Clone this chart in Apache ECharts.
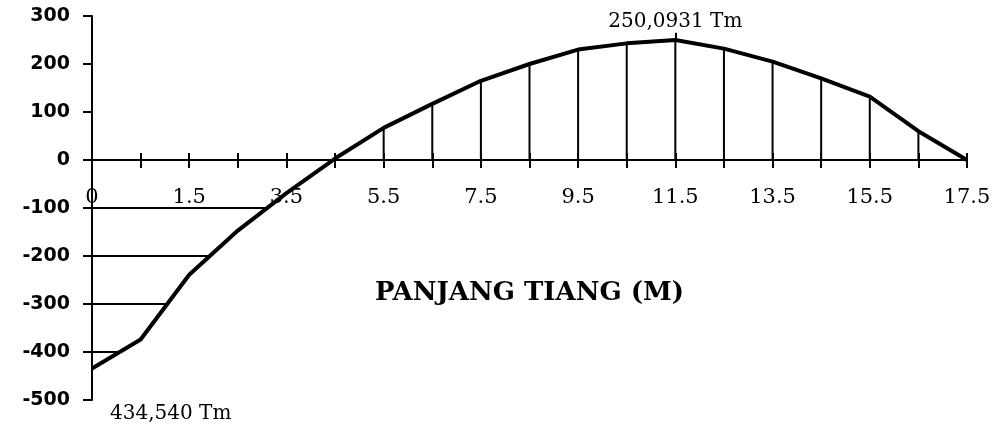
<!DOCTYPE html>
<html>
<head>
<meta charset="utf-8">
<script src="https://cdn.jsdelivr.net/npm/echarts@6/dist/echarts.min.js"></script>
<style>
  html, body { margin: 0; padding: 0; background: #fff; }
  #chart { width: 997px; height: 429px; }
</style>
</head>
<body>
<div id="chart"></div>
<script>
// ---- data ----
const categories = ['0', '0.5', '1.5', '2.5', '3.5', '4.5', '5.5', '6.5', '7.5', '8.5',
                    '9.5', '10.5', '11.5', '12.5', '13.5', '14.5', '15.5', '16.5', '17.5'];
const momentValues = [-434.54, -374, -239, -147, -69, 3, 67, 117, 165, 200,
                      230, 243, 250.09, 232, 205, 170, 132, 60, 0];
const yMin = -500;
const yMax = 300;
const yStep = 100;
const hatchLevels = [-100, -200, -300, -400];
const peakLabel = '250,0931 Tm';
const minLabel = '434,540 Tm';
const axisTitle = 'PANJANG TIANG (M)';

// ---- derived ----
const linePoints = momentValues.map((v, i) => [i, v]);
const barPoints = momentValues.map((v, i) => [i, v > 0 ? v : null]);
const peakIndex = momentValues.indexOf(Math.max(...momentValues));
const minIndex = momentValues.indexOf(Math.min(...momentValues));

function crossingX(level) {
  for (let i = 0; i < momentValues.length - 1; i++) {
    const a = momentValues[i], b = momentValues[i + 1];
    if ((a - level) * (b - level) <= 0 && a !== b) {
      return i + (level - a) / (b - a);
    }
  }
  return 0;
}
const hatchLines = hatchLevels.map(L => [{ coord: [0, L] }, { coord: [crossingX(L), L] }]);

const gridTop = 16, gridBottom = 29, chartH = 429;
const gridH = chartH - gridTop - gridBottom;
// move the x axis up from the grid bottom to the zero line
const zeroOffset = -((0 - yMin) / (yMax - yMin)) * gridH;

const chart = echarts.init(document.getElementById('chart'), null, { renderer: 'canvas' });

const xCommon = {
  type: 'value',
  min: 0,
  max: categories.length - 1,
  interval: 1,
  splitLine: { show: false },
  position: 'bottom',
  offset: zeroOffset
};

chart.setOption({
  backgroundColor: '#ffffff',
  animation: false,
  grid: { left: 92, right: 30, top: gridTop, bottom: gridBottom, containLabel: false, outerBoundsMode: 'none' },
  xAxis: [
    Object.assign({}, xCommon, {
      axisLine: { show: true, onZero: false, lineStyle: { color: '#000', width: 2 } },
      axisTick: { show: true, inside: false, length: 8, lineStyle: { color: '#000', width: 2 } },
      axisLabel: {
        show: true,
        margin: 27,
        color: '#000',
        fontFamily: 'DejaVu Serif',
        fontSize: 21,
        formatter: v => (v % 2 === 0 ? categories[v] : '')
      },
      name: axisTitle,
      nameLocation: 'middle',
      nameGap: 120,
      nameTextStyle: { color: '#000', fontFamily: 'DejaVu Serif', fontWeight: 'bold', fontSize: 26 }
    }),
    Object.assign({}, xCommon, {
      axisLine: { show: false, onZero: false },
      axisTick: { show: true, inside: true, length: 7, lineStyle: { color: '#000', width: 2 } },
      axisLabel: { show: false }
    })
  ],
  yAxis: {
    type: 'value',
    min: yMin,
    max: yMax,
    interval: yStep,
    splitLine: { show: false },
    axisLine: { show: true, onZero: false, lineStyle: { color: '#000', width: 2 } },
    axisTick: { show: true, length: 9, lineStyle: { color: '#000', width: 2 } },
    axisLabel: {
      margin: 22,
      color: '#000',
      fontFamily: 'DejaVu Sans',
      fontWeight: 'bold',
      fontSize: 19
    }
  },
  series: [
    {
      type: 'bar',
      xAxisIndex: 0,
      data: barPoints,
      barWidth: 2,
      itemStyle: { color: '#000' },
      silent: true,
      z: 2
    },
    {
      type: 'line',
      xAxisIndex: 0,
      data: linePoints,
      symbol: 'none',
      smooth: false,
      lineStyle: { color: '#000', width: 4, join: 'round' },
      z: 3,
      markLine: {
        silent: true,
        symbol: 'none',
        animation: false,
        lineStyle: { color: '#000', width: 2, type: 'solid' },
        label: { show: false },
        data: hatchLines.concat([
          [
            { coord: [peakIndex, momentValues[peakIndex]] },
            {
              coord: [peakIndex, 265],
              label: {
                show: true,
                position: 'end',
                distance: 1,
                formatter: peakLabel,
                color: '#000',
                fontFamily: 'DejaVu Serif',
                fontSize: 20
              }
            }
          ]
        ])
      },
      markPoint: {
        silent: true,
        symbol: 'circle',
        symbolSize: 0,
        data: [
          {
            coord: [minIndex, momentValues[minIndex]],
            label: {
              show: true,
              formatter: minLabel,
              position: 'inside',
              align: 'left',
              verticalAlign: 'middle',
              offset: [18, 45],
              color: '#000',
              fontFamily: 'DejaVu Serif',
              fontSize: 20
            }
          }
        ]
      }
    }
  ]
});
</script>
</body>
</html>
